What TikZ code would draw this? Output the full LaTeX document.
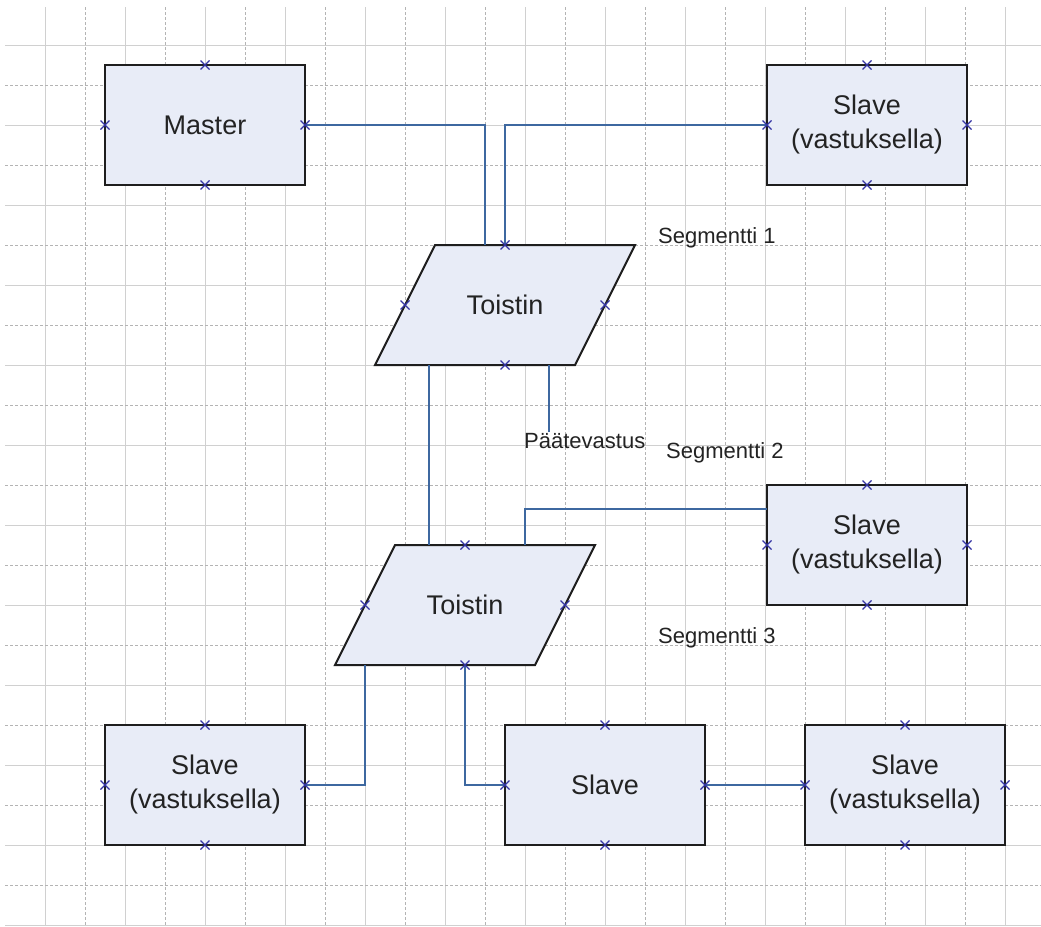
\documentclass[tikz,border=0pt]{standalone}
\usepackage{fontspec}
\setmainfont{Liberation Sans}

\pgfdeclarelayer{gridlayer}
\pgfdeclarelayer{shapes}
\pgfsetlayers{gridlayer,shapes,main}

\definecolor{gridsolid}{RGB}{208,208,208}
\definecolor{griddash}{RGB}{180,180,180}
\definecolor{boxfill}{RGB}{232,236,247}
\definecolor{boxline}{RGB}{30,30,30}
\definecolor{wirecol}{RGB}{62,104,160}
\definecolor{markcol}{RGB}{52,52,165}
\definecolor{txt}{RGB}{35,35,35}

\begin{document}
\begin{tikzpicture}[x=1pt,y=-1pt,
  unit/.style={draw=boxline, line width=2pt, fill=boxfill, minimum width=200pt,
    minimum height=120pt, inner sep=0pt, outer sep=0pt, align=center, text=txt,
    font=\fontsize{27}{34}\selectfont},
  repeater/.style={minimum width=200pt, minimum height=120pt, inner sep=0pt,
    outer sep=0pt, text=txt, font=\fontsize{27}{34}\selectfont},
  paraline/.style={draw=boxline, line width=2pt, fill=boxfill, line join=miter},
  conn/.style={draw=wirecol, line width=1.3pt},
  note/.style={text=txt, font=\fontsize{22}{26}\selectfont, inner sep=1pt},
  cp/.pic={\draw[draw=markcol, line width=1.2pt] (-4.5,-4.5) -- (4.5,4.5) (-4.5,4.5) -- (4.5,-4.5);},
]
\useasboundingbox (0,0) rectangle (1041,926);

% drawing-sheet grid
\begin{pgfonlayer}{gridlayer}
  \fill[white] (0,0) rectangle (1041,926);
  \foreach \k in {0,...,12}
    \draw[gridsolid, line width=0.8pt] (45+80*\k,7) -- (45+80*\k,925);
  \foreach \k in {0,...,11}
    \draw[griddash, line width=0.8pt, dash pattern=on 3pt off 2pt] (85+80*\k,7) -- (85+80*\k,925);
  \foreach \k in {0,...,11}
    \draw[gridsolid, line width=0.8pt] (5,45+80*\k) -- (1041,45+80*\k);
  \foreach \k in {0,...,10}
    \draw[griddash, line width=0.8pt, dash pattern=on 3pt off 2pt] (5,85+80*\k) -- (1041,85+80*\k);
\end{pgfonlayer}

% devices
\node[unit] (m)   at (205,125) {Master};
\node[unit] (s1)  at (867,125) {Slave\\(vastuksella)};
\node[unit] (s2)  at (867,545) {Slave\\(vastuksella)};
\node[unit] (sbl) at (205,785) {Slave\\(vastuksella)};
\node[unit] (sm)  at (605,785) {Slave};
\node[unit] (sbr) at (905,785) {Slave\\(vastuksella)};

% repeaters (parallelograms)
\node[repeater] (t1) at (505,305) {Toistin};
\node[repeater] (t2) at (465,605) {Toistin};
\begin{pgfonlayer}{shapes}
  \foreach \n in {t1,t2}
    \path[paraline] ([xshift=-70pt]\n.north) -- ([xshift=130pt]\n.north)
      -- ([xshift=70pt]\n.south) -- ([xshift=-130pt]\n.south) -- cycle;
\end{pgfonlayer}

% labels
\node[note, anchor=base west] (seg1) at (657,243) {Segmentti 1};
\node[note, anchor=base west] (pv)   at (523,448) {Päätevastus};
\node[note, anchor=base west] (seg2) at (665,458) {Segmentti 2};
\node[note, anchor=base west] (seg3) at (657,643) {Segmentti 3};

% bus wiring
\draw[conn] (m.east) -| ([xshift=-20pt]t1.north);
\draw[conn] (s1.west) -| (t1.north);
\draw[conn] ([xshift=-76pt]t1.south) -- ([xshift=-36pt]t2.north);
\draw[conn] ([xshift=44pt]t1.south) -- ([xshift=44pt]t1.south |- pv.north);
\draw[conn] ([xshift=60pt]t2.north) |- ([yshift=36pt]s2.west);
\draw[conn] ([xshift=-100pt]t2.south) |- (sbl.east);
\draw[conn] (t2.south) |- (sm.west);
\draw[conn] (sm.east) -- (sbr.west);

% connection points
\foreach \n in {m,s1,s2,sbl,sm,sbr,t1,t2}
  \foreach \a in {north,south,east,west}
    \pic at (\n.\a) {cp};
\end{tikzpicture}
\end{document}
